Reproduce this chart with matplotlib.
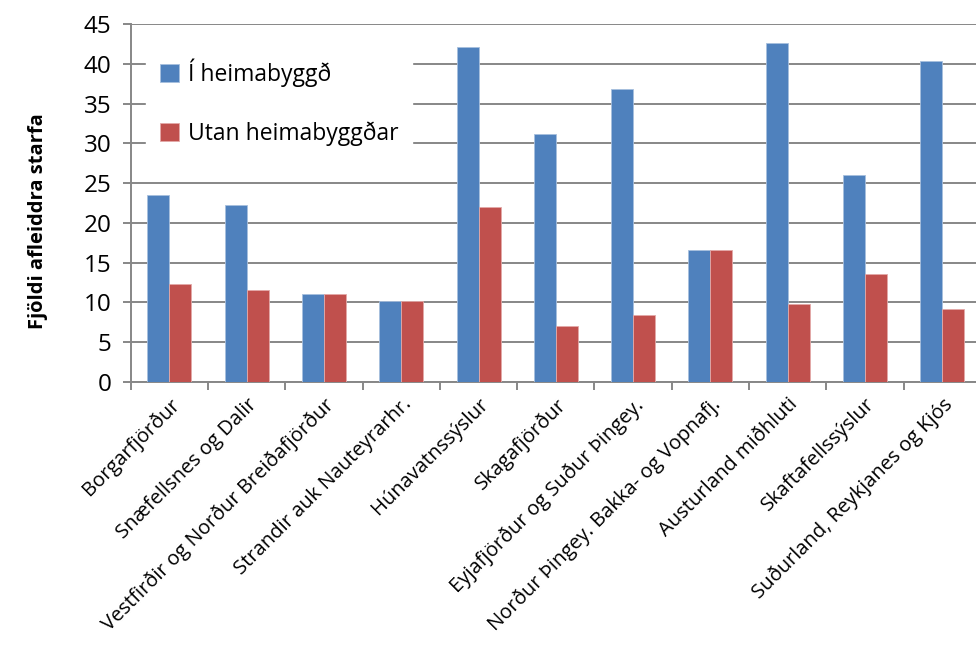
import numpy as np
import matplotlib
matplotlib.use('Agg')
import matplotlib.pyplot as plt

# data
svaedi = ['Borgarfjörður', 'Snæfellsnes og Dalir', 'Vestfirðir og Norður Breiðafjörður',
          'Strandir auk Nauteyrarhr.', 'Húnavatnssýslur', 'Skagafjörður',
          'Eyjafjörður og Suður Þingey.', 'Norður Þingey. Bakka- og Vopnafj.',
          'Austurland miðhluti', 'Skaftafellssýslur', 'Suðurland, Reykjanes og Kjós']
i_heimabyggd = [23.5, 22.2, 11.0, 10.2, 42.1, 31.2, 36.8, 16.6, 42.6, 26.0, 40.3]
utan_heimabyggdar = [12.3, 11.6, 11.0, 10.2, 22.0, 7.1, 8.4, 16.6, 9.8, 13.6, 9.2]
yticks = [0, 5, 10, 15, 20, 25, 30, 35, 40, 45]

plt.rcParams['font.family'] = ['Open Sans', 'DejaVu Sans']

fig = plt.figure(figsize=(9.76, 6.46), dpi=100)
ax = fig.add_axes([0.134, 0.4087, 0.871, 0.554])

x = np.arange(len(svaedi))
w = 0.285
ax.bar(x - w/2, i_heimabyggd, w, color='#4F81BD', edgecolor='#A7BFDE', linewidth=0.6,
       label='Í heimabyggð', zorder=3)
ax.bar(x + w/2, utan_heimabyggdar, w, color='#C0504D', edgecolor='#E3A9A8', linewidth=0.6,
       label='Utan heimabyggðar', zorder=3)

ax.set_xlim(-0.5, len(svaedi) - 0.5)
ax.set_ylim(0, 45)
ax.set_yticks(yticks)
ax.yaxis.grid(True, color='#878787', linewidth=1.4, zorder=0)
ax.set_axisbelow(True)

ax.set_xticks(x)
ax.set_xticklabels(svaedi, rotation=45, ha='right', rotation_mode='anchor', fontsize=14.5)
ax.set_xticks(np.arange(-0.5, len(svaedi)), minor=True)
ax.tick_params(axis='x', which='major', length=0, pad=9)
ax.tick_params(axis='x', which='minor', length=6, color='#878787', width=1.4, direction='out')
ax.tick_params(axis='y', length=6, color='#878787', width=1.4, labelsize=17.5, pad=8)

for s in ['top', 'right']:
    ax.spines[s].set_visible(False)
for s in ['left', 'bottom']:
    ax.spines[s].set_color('#878787')
    ax.spines[s].set_linewidth(1.4)

ax.set_ylabel('Fjöldi afleiddra starfa', fontsize=14.5, fontweight='bold')
ax.yaxis.set_label_coords(-0.097, 0.45)

leg = ax.legend(loc='upper left', bbox_to_anchor=(0.005, 0.975), fontsize=16.5, frameon=True,
                fancybox=False, edgecolor='white', framealpha=1, labelspacing=1.5,
                handlelength=0.8, handleheight=0.8, handletextpad=0.4, borderpad=0.6)

fig.savefig('out.png', dpi=100)
